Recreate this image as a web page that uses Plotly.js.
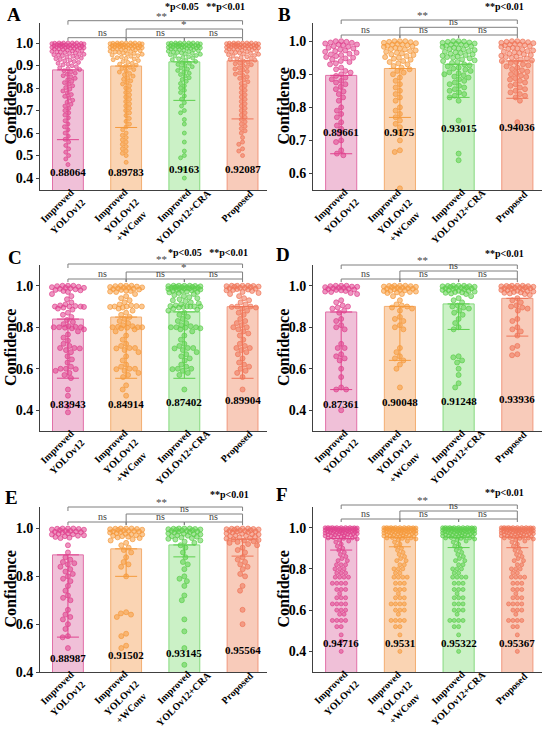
<!DOCTYPE html>
<html><head><meta charset="utf-8">
<script src="https://cdn.plot.ly/plotly-3.0.1.min.js"></script>
<style>html,body{margin:0;padding:0;background:#fff}</style>
</head><body><div id="chart" style="width:550px;height:731px"></div>
<script>
// ---------- data ----------
const categories = [["Improved","YOLOv12"],["Improved","YOLOv12","+WConv"],["Improved","YOLOv12+CRA"],["Proposed"]];
const panelLetters = ["A","B","C","D","E","F"];

const meansA = [0.88064, 0.89783, 0.9163, 0.92087];
const meansB = [0.89661, 0.9175, 0.93015, 0.94036];
const meansC = [0.83943, 0.84914, 0.87402, 0.89904];
const meansD = [0.87361, 0.90048, 0.91248, 0.93936];
const meansE = [0.88987, 0.91502, 0.93145, 0.95564];
const meansF = [0.94716, 0.9531, 0.95322, 0.95367];

const errA = [0.31, 0.273, 0.171, 0.258];
const errB = [0.237, 0.148, 0.10, 0.113];
const errC = [0.285, 0.295, 0.32, 0.345];
const errD = [0.374, 0.26, 0.123, 0.182];
const errE = [0.344, 0.115, 0.05, 0.071];
const errF = [0.056, 0.046, 0.05, 0.051];

const midSig = ["*","ns","*","ns","ns","ns"];
const topSig = ["**","**","**","**","**","**"];
const lowSig = ["ns","ns","ns"];
const pLegend = ["*p<0.05   **p<0.01","**p<0.01","*p<0.05   **p<0.01","**p<0.01","**p<0.01","**p<0.01"];

const pointsA = [
 [1,1,1,1,1,.999,.998,.997,.996,.995,.994,.993,.992,.991,.99,.99,.989,.988,.987,.986,.985,.984,.983,.982,.981,.98,.979,.978,.977,.976,.975,.973,.972,.97,.969,.967,.965,.963,.961,.96,.958,.956,.954,.952,.95,.948,.946,.944,.941,.938,.936,.933,.93,.927,.924,.921,.918,.914,.91,.906,.903,.899,.895,.89,.886,.882,.877,.872,.866,.861,.855,.85,.843,.837,.83,.824,.817,.81,.802,.795,.787,.779,.771,.763,.755,.746,.737,.728,.72,.71,.70,.69,.68,.668,.655,.64,.628,.615,.60,.586,.572,.56,.545,.53,.515,.50,.485,.46],
 [1,1,1,1,1,.999,.998,.997,.996,.995,.994,.993,.992,.991,.99,.99,.989,.988,.987,.986,.985,.984,.983,.982,.981,.98,.979,.978,.977,.976,.975,.974,.972,.97,.968,.966,.964,.962,.96,.958,.956,.954,.952,.95,.947,.944,.941,.938,.935,.932,.929,.926,.922,.918,.914,.91,.906,.902,.897,.892,.887,.882,.877,.871,.865,.859,.853,.846,.839,.832,.825,.818,.81,.80,.79,.78,.77,.76,.75,.74,.73,.72,.71,.70,.69,.678,.665,.652,.64,.627,.615,.60,.59,.58,.57,.56,.55,.54,.53,.52,.51,.50,.47],
 [1,1,1,1,1,.999,.998,.997,.996,.995,.994,.993,.992,.991,.99,.99,.989,.988,.987,.986,.985,.984,.983,.982,.981,.98,.979,.978,.977,.976,.975,.974,.972,.97,.968,.966,.964,.962,.96,.958,.956,.954,.952,.95,.948,.945,.942,.939,.936,.933,.93,.926,.922,.918,.914,.91,.905,.90,.895,.89,.884,.878,.872,.866,.86,.853,.846,.838,.83,.82,.81,.80,.79,.78,.765,.75,.735,.72,.70,.69,.66,.64,.60,.56,.52,.50,.49,.44,.40],
 [1,1,1,1,1,.999,.998,.997,.996,.995,.994,.993,.992,.991,.99,.99,.989,.988,.987,.986,.985,.984,.983,.982,.981,.98,.979,.978,.977,.976,.975,.974,.972,.97,.968,.966,.964,.962,.96,.958,.956,.954,.952,.95,.948,.945,.942,.939,.936,.933,.93,.927,.924,.92,.916,.912,.908,.904,.90,.895,.89,.885,.88,.874,.868,.862,.856,.85,.843,.836,.828,.82,.81,.80,.79,.78,.77,.76,.75,.74,.73,.72,.71,.70,.69,.68,.67,.66,.65,.64,.63,.62,.61,.60,.58,.56,.55,.53,.52,.50]
];
const pointsB = [
 [1,1,.998,.996,.995,.993,.99,.99,.988,.985,.983,.98,.978,.975,.972,.97,.968,.965,.962,.96,.958,.955,.952,.95,.948,.945,.94,.937,.933,.93,.92,.915,.91,.905,.90,.895,.89,.885,.88,.875,.87,.862,.855,.848,.84,.83,.82,.80,.79,.78,.77,.755,.745,.735,.72,.70,.695,.67,.66,.655],
 [1,1,1,.998,.997,.995,.994,.992,.99,.99,.988,.986,.985,.983,.98,.978,.976,.975,.972,.97,.968,.965,.963,.96,.958,.955,.952,.95,.947,.944,.94,.937,.933,.93,.925,.92,.915,.91,.905,.90,.89,.88,.87,.86,.85,.84,.83,.82,.80,.79,.78,.77,.76,.75,.74,.725,.72,.70,.67,.665,.555],
 [1,1,.999,.998,.996,.995,.993,.992,.99,.99,.988,.986,.985,.983,.98,.978,.976,.975,.973,.97,.968,.966,.964,.962,.96,.958,.956,.954,.952,.95,.948,.945,.942,.94,.937,.934,.93,.927,.924,.92,.917,.914,.91,.906,.903,.90,.897,.893,.89,.885,.88,.875,.87,.865,.86,.855,.85,.845,.84,.835,.83,.82,.76,.66,.64],
 [1,1,.999,.998,.997,.995,.994,.992,.99,.99,.988,.987,.985,.983,.98,.978,.977,.975,.972,.97,.968,.966,.964,.962,.96,.958,.956,.954,.952,.95,.948,.945,.942,.94,.937,.934,.93,.927,.924,.92,.916,.912,.908,.904,.90,.896,.892,.888,.884,.88,.875,.87,.865,.86,.855,.85,.845,.84,.835,.83,.82,.755]
];
const pointsC = [
 [1,1,1,.998,.995,.993,.99,.99,.988,.985,.983,.98,.978,.975,.97,.96,.95,.935,.92,.91,.905,.902,.90,.90,.90,.898,.895,.89,.885,.87,.86,.85,.835,.825,.815,.805,.802,.80,.80,.80,.798,.795,.79,.78,.765,.75,.735,.72,.71,.70,.70,.698,.69,.68,.66,.645,.63,.61,.60,.60,.598,.59,.58,.57,.555,.50,.47,.42,.39],
 [1,1,1,.998,.996,.994,.992,.99,.99,.988,.986,.984,.982,.98,.977,.975,.972,.97,.96,.95,.94,.93,.92,.91,.905,.902,.90,.90,.90,.898,.895,.89,.88,.87,.86,.85,.84,.83,.82,.81,.805,.802,.80,.80,.80,.798,.795,.79,.78,.76,.74,.72,.71,.70,.70,.698,.69,.68,.66,.64,.62,.61,.60,.60,.598,.59,.58,.57,.56,.52,.50,.47],
 [1,1,1,1,.999,.998,.997,.995,.994,.993,.992,.99,.99,.99,.988,.987,.986,.985,.984,.982,.98,.978,.976,.975,.972,.97,.968,.965,.96,.955,.95,.945,.94,.935,.93,.925,.92,.915,.91,.905,.902,.90,.90,.90,.90,.898,.895,.89,.885,.88,.87,.86,.85,.84,.83,.82,.81,.805,.80,.80,.80,.798,.795,.79,.78,.76,.74,.72,.71,.70,.70,.698,.69,.68,.67,.66,.65,.64,.62,.61,.60,.60,.598,.59,.58,.57,.50],
 [1,1,1,1,.999,.998,.996,.995,.993,.99,.99,.988,.986,.984,.982,.98,.978,.975,.97,.965,.96,.95,.94,.93,.92,.91,.90,.90,.898,.895,.89,.88,.87,.86,.84,.83,.82,.81,.80,.80,.79,.78,.77,.76,.74,.72,.71,.70,.70,.69,.68,.67,.65,.63,.62,.61,.60,.59,.58,.56,.50]
];
const pointsD = [
 [1,1,1,.998,.996,.995,.993,.99,.99,.988,.986,.984,.982,.98,.978,.975,.972,.97,.965,.96,.93,.92,.905,.90,.895,.89,.88,.87,.84,.83,.81,.80,.79,.72,.70,.70,.67,.66,.65,.64,.60,.56,.51,.50,.50,.40],
 [1,1,1,.999,.998,.996,.995,.993,.99,.99,.988,.986,.985,.983,.98,.978,.976,.975,.972,.97,.968,.965,.96,.95,.93,.91,.905,.90,.895,.89,.88,.85,.84,.83,.81,.80,.79,.70,.68,.66,.65,.64,.62,.60,.51],
 [1,1,1,.999,.998,.997,.995,.994,.992,.99,.99,.988,.987,.985,.983,.98,.978,.976,.975,.972,.97,.968,.966,.963,.96,.95,.94,.93,.92,.905,.90,.895,.89,.88,.87,.86,.84,.82,.80,.79,.66,.655,.64,.63,.60,.57,.53,.51],
 [1,1,1,.999,.998,.997,.995,.994,.992,.99,.99,.988,.987,.985,.983,.98,.978,.976,.975,.972,.97,.968,.966,.963,.96,.955,.94,.93,.92,.905,.90,.895,.89,.88,.84,.83,.80,.79,.78,.76,.71,.70,.67,.665]
];
const pointsE = [
 [1,1,1,.999,.998,.996,.995,.993,.99,.99,.988,.986,.985,.983,.98,.978,.976,.975,.972,.97,.968,.965,.962,.96,.93,.90,.88,.87,.86,.855,.85,.84,.83,.82,.81,.80,.79,.78,.76,.74,.72,.71,.70,.66,.64,.63,.62,.60,.58,.55,.545,.50],
 [1,1,1,.999,.998,.997,.995,.994,.992,.99,.99,.988,.987,.985,.983,.98,.978,.976,.975,.972,.97,.968,.966,.963,.96,.955,.95,.94,.93,.92,.91,.90,.88,.86,.85,.84,.80,.65,.645,.64,.63,.56,.55,.51,.50],
 [1,1,1,.999,.998,.997,.996,.995,.993,.992,.99,.99,.988,.987,.985,.983,.98,.978,.976,.975,.972,.97,.968,.966,.963,.96,.957,.954,.95,.945,.94,.93,.92,.90,.88,.86,.85,.83,.80,.79,.78,.76,.72,.70,.62,.57,.50,.43],
 [1,1,1,.999,.998,.997,.996,.995,.993,.992,.99,.99,.988,.987,.985,.983,.98,.978,.976,.975,.972,.97,.968,.966,.963,.96,.958,.955,.952,.95,.947,.944,.94,.935,.93,.92,.91,.90,.88,.87,.86,.85,.84,.83,.81,.80,.76,.74,.66,.60]
];
const pointsF = [
 [1,1,1,1,1,1,.999,.999,.998,.998,.997,.997,.996,.996,.995,.995,.994,.993,.992,.991,.99,.99,.99,.989,.988,.987,.986,.985,.984,.983,.982,.981,.98,.98,.979,.978,.977,.976,.975,.974,.973,.972,.971,.97,.969,.968,.966,.965,.963,.962,.96,.96,.958,.957,.955,.954,.952,.95,.95,.948,.945,.94,.935,.93,.92,.91,.90,.89,.88,.87,.86,.85,.84,.84,.82,.82,.82,.80,.80,.80,.78,.78,.78,.76,.76,.76,.76,.73,.73,.73,.73,.70,.70,.70,.68,.66,.66,.66,.63,.63,.63,.63,.60,.60,.60,.58,.58,.55,.55,.55,.55,.52,.52,.48,.45,.40],
 [1,1,1,1,1,1,.999,.999,.998,.998,.997,.997,.996,.996,.995,.995,.994,.993,.992,.991,.99,.99,.99,.989,.988,.987,.986,.985,.984,.983,.982,.981,.98,.98,.979,.978,.977,.976,.975,.974,.973,.972,.971,.97,.969,.968,.966,.965,.963,.962,.96,.96,.958,.957,.955,.954,.952,.95,.95,.948,.945,.94,.935,.93,.92,.91,.90,.89,.88,.87,.86,.85,.84,.84,.82,.82,.80,.80,.80,.78,.78,.76,.76,.76,.76,.73,.73,.73,.70,.70,.70,.68,.66,.66,.66,.63,.63,.63,.63,.60,.60,.60,.58,.55,.55,.55,.55,.52,.52,.48,.40],
 [1,1,1,1,1,1,.999,.999,.998,.998,.997,.997,.996,.996,.995,.995,.994,.993,.992,.991,.99,.99,.99,.989,.988,.987,.986,.985,.984,.983,.982,.981,.98,.98,.979,.978,.977,.976,.975,.974,.973,.972,.971,.97,.969,.968,.966,.965,.963,.962,.96,.96,.958,.957,.955,.954,.952,.95,.95,.948,.945,.94,.935,.93,.92,.91,.90,.89,.88,.87,.86,.85,.84,.84,.82,.82,.80,.80,.80,.78,.78,.76,.76,.76,.76,.73,.73,.73,.70,.70,.70,.68,.66,.66,.66,.63,.63,.63,.60,.60,.60,.58,.55,.55,.55,.55,.52,.52,.48,.40],
 [1,1,1,1,1,1,.999,.999,.998,.998,.997,.997,.996,.996,.995,.995,.994,.993,.992,.991,.99,.99,.99,.989,.988,.987,.986,.985,.984,.983,.982,.981,.98,.98,.979,.978,.977,.976,.975,.974,.973,.972,.971,.97,.969,.968,.966,.965,.963,.962,.96,.96,.958,.957,.955,.954,.952,.95,.95,.948,.945,.94,.935,.93,.92,.91,.90,.89,.88,.87,.86,.85,.84,.84,.82,.82,.80,.80,.80,.78,.78,.76,.76,.76,.76,.73,.73,.73,.70,.70,.70,.68,.66,.66,.66,.63,.63,.63,.63,.60,.60,.60,.58,.55,.55,.55,.55,.52,.52,.48,.40]
];

// ---------- styles / layout config ----------
const W = 550, H = 731;
const FONT = '"Liberation Serif","Times New Roman",serif';
const ptColors = ['#e0428e','#f59a3c','#5ccf4c','#ef7458'];
const ptFills = ['rgba(224,66,142,0.55)','rgba(245,154,60,0.55)','rgba(92,207,76,0.55)','rgba(239,116,88,0.55)'];
const barFills = ['rgba(228,140,184,0.55)','rgba(246,176,116,0.55)','rgba(140,224,128,0.45)','rgba(242,160,130,0.55)'];
const barLines = ['#e170a8','#f3ad70','#86d97e','#f0977c'];

const xDom = [[40/W, 267/W],[313/W, 542/W]];
const rowTopPx = [23, 265, 507];
const rowBotPx = [190, 431, 672];
const xRange = [-0.48, 3.42];
const yRanges = [[0.347,1.089],[0.55,1.055],[0.30,1.10],[0.30,1.10],[0.40,1.09],[0.30,1.10]];
const yTicks = [[0.4,0.5,0.6,0.7,0.8,0.9,1.0],[0.6,0.7,0.8,0.9,1.0],[0.4,0.6,0.8,1.0],[0.4,0.6,0.8,1.0],[0.4,0.6,0.8,1.0],[0.4,0.6,0.8,1.0]];
const labelY = [0.425, 0.724, 0.43, 0.43, 0.46, 0.443];
const labelShift = [[0,0,3,3],[0,0,4,5],[0,0,2,4],[0,2,3,5],[0,3,5,8],[0,0,0,0]];
const bracketPx = [[20.7,29,37.7],[20,27.3,35],[264,272,279],[265,271,279],[507,514,522],[505,511,519]];
const legendPos = [[205,7],[504,7],[208,252],[504,253],[230,494],[504,492]];
const letterPos = [[14,15],[284,15],[15,257],[283,254],[11,497],[282,495]];
const markerSizes = [4,5,5,5,5,4];
const swarmHalfPx = 16;

const allMeans = [meansA,meansB,meansC,meansD,meansE,meansF];
const allErr = [errA,errB,errC,errD,errE,errF];
const allPts = [pointsA,pointsB,pointsC,pointsD,pointsE,pointsF];

// simple beeswarm: horizontal offsets (in x data units) computed from the values
function swarmOffsets(vals, pyPerUnit, pxPerUnit, diam, maxHalf){
  const order = vals.map((v,i)=>i).sort((a,b)=>vals[b]-vals[a] || a-b);
  const placed = [];
  const off = new Array(vals.length).fill(0);
  const d2 = diam*diam;
  for (const i of order){
    const y = vals[i]*pyPerUnit;
    const near = placed.filter(p => Math.abs(p.y-y) < diam);
    const cands = [0];
    for (const p of near){ const dx = Math.sqrt(d2 - (p.y-y)*(p.y-y)); cands.push(p.x+dx, p.x-dx); }
    cands.sort((a,b)=>Math.abs(a)-Math.abs(b) || a-b);
    let x = null;
    for (const c of cands){
      if (Math.abs(c) > maxHalf) break;
      if (near.every(p => (p.x-c)*(p.x-c) + (p.y-y)*(p.y-y) >= d2 - 1e-6)) { x = c; break; }
    }
    if (x === null){
      let best = 0, bestScore = -1;
      for (let c = -maxHalf; c <= maxHalf + 1e-9; c += 0.5){
        let m = Infinity;
        for (const p of near){ const dd = (p.x-c)*(p.x-c) + (p.y-y)*(p.y-y); if (dd < m) m = dd; }
        if (m > bestScore + 1e-9){ bestScore = m; best = c; }
      }
      x = best;
    }
    placed.push({x, y});
    off[i] = x/pxPerUnit;
  }
  return off;
}

const traces = [];
const shapes = [];
const annotations = [];
const layout = {
  width: W, height: H, margin:{l:0,r:0,t:0,b:0},
  paper_bgcolor:'#fff', plot_bgcolor:'rgba(0,0,0,0)',
  showlegend:false, font:{family:FONT, color:'#000'},
  shapes, annotations
};

function paperX(col, k){
  const d = xDom[col];
  return d[0] + (k - xRange[0])/(xRange[1]-xRange[0])*(d[1]-d[0]);
}
function paperY(px){ return 1 - px/H; }

for (let i = 0; i < 6; i++){
  const row = Math.floor(i/2), col = i%2;
  const sfx = i === 0 ? '' : String(i+1);
  const xa = 'x'+sfx, ya = 'y'+sfx;
  layout['xaxis'+sfx] = {
    domain: xDom[col], range: xRange, anchor: ya,
    tickvals:[0,1,2,3], showticklabels:false,
    showline:true, linecolor:'#404040', linewidth:1, ticks:'',
    showgrid:false, zeroline:false, fixedrange:true
  };
  layout['yaxis'+sfx] = {
    domain:[paperY(rowBotPx[row]), paperY(rowTopPx[row])], range: yRanges[i], anchor: xa,
    tickvals: yTicks[i], tickformat:'.1f',
    tickfont:{family:FONT, size:14, weight:'bold', color:'#000'},
    showline:true, linecolor:'#404040', linewidth:1, ticks:'outside', ticklen:3, tickcolor:'#404040',
    showgrid:false, zeroline:false, fixedrange:true
  };

  const pyPerUnit = (rowBotPx[row]-rowTopPx[row])/(yRanges[i][1]-yRanges[i][0]);
  const pxPerUnit = (xDom[col][1]-xDom[col][0])*W/(xRange[1]-xRange[0]);

  // bars
  traces.push({
    type:'bar', x:[0,1,2,3], y: allMeans[i], width:0.53, xaxis:xa, yaxis:ya,
    marker:{color: barFills, line:{color: barLines, width:1}}, hoverinfo:'y'
  });
  // points (beeswarm)
  for (let k = 0; k < 4; k++){
    const vals = allPts[i][k];
    const off = swarmOffsets(vals, pyPerUnit, pxPerUnit, markerSizes[i]+0.4, swarmHalfPx);
    traces.push({
      type:'scatter', mode:'markers', x: off.map(o => k + o), y: vals, xaxis:xa, yaxis:ya,
      marker:{size: markerSizes[i], color: ptFills[k], line:{color: ptColors[k], width:0.7}},
      hoverinfo:'y', cliponaxis:false
    });
  }
  // error bars
  for (let k = 0; k < 4; k++){
    traces.push({
      type:'scatter', mode:'markers', x:[k], y:[allMeans[i][k]], xaxis:xa, yaxis:ya,
      marker:{size:1, color:'rgba(0,0,0,0)'},
      error_y:{type:'data', symmetric:false, array:[0], arrayminus:[allErr[i][k]], color: ptColors[k], thickness:1, width:11},
      hoverinfo:'skip'
    });
  }
  // value labels
  for (let k = 0; k < 4; k++){
    annotations.push({
      xref:xa, yref:ya, x:k, y:labelY[i], yshift: labelShift[i][k],
      text: String(allMeans[i][k]), showarrow:false,
      font:{family:FONT, size:11, weight:'bold', color:'#000'}
    });
  }
  // category labels (rotated, one annotation per line)
  for (let k = 0; k < 4; k++){
    const lines = categories[k];
    const n = lines.length;
    for (let j = 0; j < n; j++){
      const cx = (n === 1) ? -6 : (-5.5 + 10*(j - (n-1)/2));
      const cy = (n === 1) ? 16 : (15.5 + 10.5*j);
      annotations.push({
        xref:xa, yref:'paper', x:k, y: paperY(rowBotPx[row]), xshift: cx, yshift: -cy,
        text: lines[j], textangle:-45, showarrow:false, xanchor:'center', yanchor:'middle',
        font:{family:FONT, size:10, weight:'bold', color:'#000'}
      });
    }
  }
  // brackets
  const [topL, midL, lowL] = bracketPx[i];
  const lineStyle = {color:'#7f7f7f', width:1};
  const txtFont = {family:FONT, size:10, color:'#444'};
  const starFont = {family:FONT, size:11, color:'#444'};
  function addBracket(k1, k2, lvl, drop, label){
    const x1 = paperX(col,k1), x2 = paperX(col,k2);
    const yl = paperY(lvl), yd = paperY(lvl+drop);
    shapes.push({type:'path', xref:'paper', yref:'paper',
      path:`M${x1},${yd}L${x1},${yl}L${x2},${yl}L${x2},${yd}`, line:lineStyle});
    const isStar = label.indexOf('*') >= 0;
    annotations.push({xref:'paper', yref:'paper', x:(x1+x2)/2, y:yl, text:label, showarrow:false,
      yanchor:'bottom', yshift: isStar ? -2 : -1, borderpad:0,
      font: isStar ? starFont : txtFont});
  }
  for (let k = 0; k < 3; k++) addBracket(k, k+1, lowL, 3, lowSig[k]);
  addBracket(1, 3, midL, lowL - midL, midSig[i]);
  addBracket(0, 3, topL, 4, topSig[i]);

  // p legend
  annotations.push({xref:'paper', yref:'paper', x: legendPos[i][0]/W, y: paperY(legendPos[i][1]),
    text: pLegend[i], showarrow:false, xanchor:'center', yanchor:'middle',
    font:{family:FONT, size:10, weight:'bold', color:'#000'}});
  // panel letter
  annotations.push({xref:'paper', yref:'paper', x: letterPos[i][0]/W, y: paperY(letterPos[i][1]),
    text: panelLetters[i], showarrow:false, xanchor:'center', yanchor:'middle',
    font:{family:FONT, size:19, weight:'bold', color:'#000'}});
  // y title
  annotations.push({xref:'paper', yref:'paper', x: (col === 0 ? 10 : 283)/W,
    y: paperY((rowTopPx[row]+rowBotPx[row])/2), text:'Confidence', textangle:-90, showarrow:false,
    xanchor:'center', yanchor:'middle',
    font:{family:FONT, size:16, weight:'bold', color:'#000'}});
}

Plotly.newPlot('chart', traces, layout, {displayModeBar:false, staticPlot:true});
</script></body></html>
